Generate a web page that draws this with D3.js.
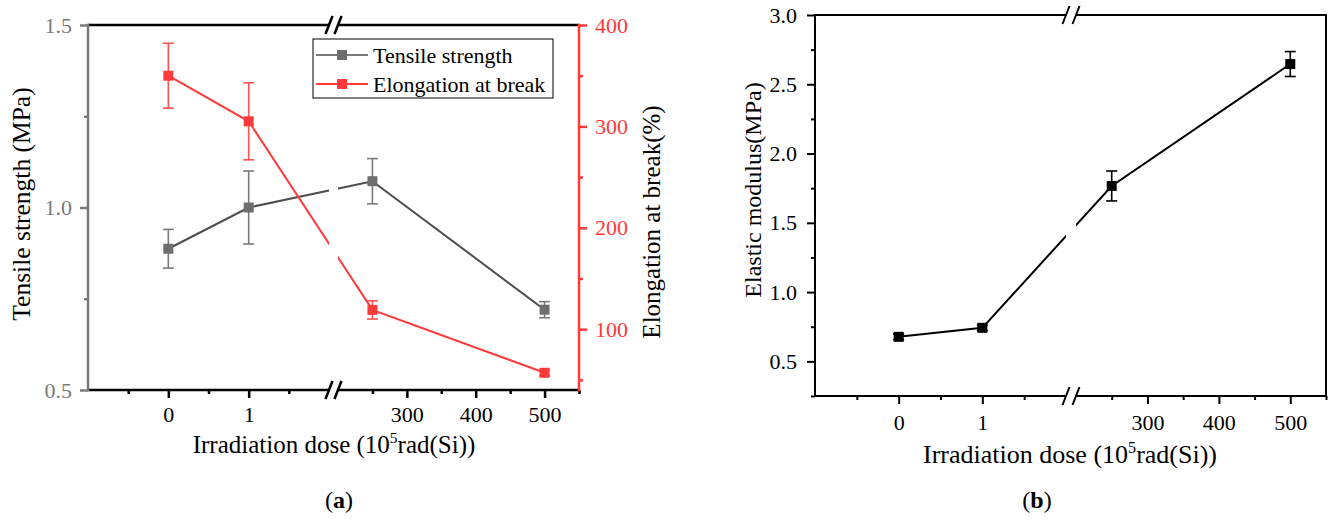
<!DOCTYPE html>
<html>
<head>
<meta charset="utf-8">
<script src="https://cdn.jsdelivr.net/npm/d3@7"></script>
<style>
  body { margin: 0; background: #fff; }
  svg { display: block; font-family: "Liberation Serif", "Times New Roman", serif; }
</style>
</head>
<body>
<svg id="chart" width="1330" height="523"></svg>
<script>
// data
const doses = [0, 1, 250, 500];
const tensile = [0.887, 1.0, 1.072, 0.72];
const tensileErr = [0.053, 0.1, 0.062, 0.022];
const elongation = [350, 305, 119, 57];
const elongationErr = [32, 38, 9, 3];
const modulus = [0.677, 0.742, 1.766, 2.646];
const modulusErr = [0.02, 0.02, 0.108, 0.09];

const xMajor = [0, 1, 300, 400, 500];
const xMinor = [-0.5, 0.5, 1.5, 250, 350, 450, 550];
const xBreakDomain = [-1, 2, 200, 550];

const tensileTicks = [0.5, 1.0, 1.5];
const tensileMinor = [0.75, 1.25];
const elongTicks = [100, 200, 300, 400];
const elongMinor = [50, 150, 250, 350];
const modulusTicks = [0.5, 1.0, 1.5, 2.0, 2.5, 3.0];
const modulusMinor = [0.25, 0.75, 1.25, 1.75, 2.25, 2.75];

const RED = "#ff3a3a";
const GRAY = "#7a7a7a";
const FONT = "'Liberation Serif', 'Times New Roman', serif";

const svg = d3.select("#chart");

// broken x axis: two linear pieces with a small gap between them
function drawFrame(g, p, xs, opts) {
    const bx = (p.b1 + p.b2) / 2;
    const gap = (p.b2 - p.b1) / 2;

    // x ticks
    g.append("g")
        .attr("transform", `translate(0,${p.B})`)
        .call(d3.axisBottom(xs).tickValues(xMajor).tickSize(8).tickPadding(opts.xPad).tickFormat(d3.format("d")))
        .attr("font-family", FONT).attr("font-size", 22)
        .call(a => a.select(".domain").remove())
        .call(a => a.selectAll("line").attr("stroke", "#000").attr("stroke-width", opts.sw))
        .call(a => a.selectAll("text").attr("fill", "#000").style("font-family", FONT));
    g.append("g")
        .attr("transform", `translate(0,${p.B})`)
        .call(d3.axisBottom(xs).tickValues(xMinor).tickSize(4).tickFormat(""))
        .call(a => a.select(".domain").remove())
        .call(a => a.selectAll("line").attr("stroke", "#000").attr("stroke-width", opts.sw));

    // top and bottom lines, split at the break
    [p.T, p.B].forEach(y => {
        g.append("line").attr("x1", p.L).attr("x2", bx - gap).attr("y1", y).attr("y2", y)
            .attr("stroke", "#000").attr("stroke-width", opts.sw);
        g.append("line").attr("x1", bx + gap).attr("x2", p.R).attr("y1", y).attr("y2", y)
            .attr("stroke", "#000").attr("stroke-width", opts.sw);
        [-gap, gap].forEach(o => {
            g.append("line")
                .attr("x1", bx + o - 3.5).attr("y1", y + 9)
                .attr("x2", bx + o + 3.5).attr("y2", y - 9)
                .attr("stroke", "#000").attr("stroke-width", opts.sw);
        });
    });
}

function yAxis(g, p, ys, ticks, minor, side, color, pad, fmt, sw) {
    const x = side === "left" ? p.L : p.R;
    const mk = side === "left" ? d3.axisLeft : d3.axisRight;
    g.append("g")
        .attr("transform", `translate(${x},0)`)
        .call(mk(ys).tickValues(ticks).tickSize(8).tickPadding(pad).tickFormat(fmt))
        .attr("font-family", FONT).attr("font-size", 22)
        .call(a => a.select(".domain").remove())
        .call(a => a.selectAll("line").attr("stroke", color).attr("stroke-width", sw))
        .call(a => a.selectAll("text").attr("fill", color).style("font-family", FONT));
    g.append("g")
        .attr("transform", `translate(${x},0)`)
        .call(mk(ys).tickValues(minor).tickSize(4).tickFormat(""))
        .call(a => a.select(".domain").remove())
        .call(a => a.selectAll("line").attr("stroke", color).attr("stroke-width", sw));
    g.append("line").attr("x1", x).attr("x2", x).attr("y1", p.T - sw / 2).attr("y2", p.B + sw / 2)
        .attr("stroke", color).attr("stroke-width", sw);
}

function series(g, p, xs, ys, vals, errs, lineColor, markColor, errColor, clipId) {
    const pts = doses.map((d, i) => ({ x: xs(d), y: ys(vals[i]), e: errs[i], v: vals[i] }));

    // clip the line where the axis is broken
    const clip = g.append("clipPath").attr("id", clipId);
    clip.append("rect").attr("x", 0).attr("y", 0).attr("width", p.b1).attr("height", 523);
    clip.append("rect").attr("x", p.b2).attr("y", 0).attr("width", 1330 - p.b2).attr("height", 523);

    g.append("path")
        .datum(pts)
        .attr("clip-path", `url(#${clipId})`)
        .attr("fill", "none")
        .attr("stroke", lineColor)
        .attr("stroke-width", 2)
        .attr("d", d3.line().x(d => d.x).y(d => d.y));

    const eb = g.append("g").attr("stroke", errColor).attr("stroke-width", 1.6);
    pts.forEach(d => {
        const y1 = ys(d.v + d.e), y2 = ys(d.v - d.e);
        eb.append("line").attr("x1", d.x).attr("x2", d.x).attr("y1", y1).attr("y2", y2);
        eb.append("line").attr("x1", d.x - 5.5).attr("x2", d.x + 5.5).attr("y1", y1).attr("y2", y1);
        eb.append("line").attr("x1", d.x - 5.5).attr("x2", d.x + 5.5).attr("y1", y2).attr("y2", y2);
    });

    g.append("g").selectAll("rect")
        .data(pts)
        .join("rect")
        .attr("x", d => d.x - 5)
        .attr("y", d => d.y - 5)
        .attr("width", 10)
        .attr("height", 10)
        .attr("fill", markColor);
}

function xTitle(g, cx, y, size) {
    const t = g.append("text")
        .attr("x", cx).attr("y", y)
        .attr("text-anchor", "middle")
        .attr("font-size", size);
    t.append("tspan").text("Irradiation dose (10");
    t.append("tspan").attr("font-size", size * 0.62).attr("dy", -size * 0.4).text("5");
    t.append("tspan").attr("dy", size * 0.4).text("rad(Si))");
}

function caption(cx, letter) {
    const t = svg.append("text")
        .attr("x", cx).attr("y", 508)
        .attr("text-anchor", "middle")
        .attr("font-size", 24);
    t.append("tspan").text("(");
    t.append("tspan").attr("font-weight", "bold").text(letter);
    t.append("tspan").text(")");
}

// ---------- (a) ----------
const pa = { L: 88, R: 579, T: 25, B: 390, b1: 329, b2: 338 };
const ga = svg.append("g");
const xa = d3.scaleLinear().domain(xBreakDomain).range([pa.L, pa.b1, pa.b2, pa.R]);
const yaL = d3.scaleLinear().domain([0.5, 1.5]).range([pa.B, pa.T]);
const yaR = d3.scaleLinear().domain([40, 400]).range([pa.B, pa.T]);

drawFrame(ga, pa, xa, { sw: 2.5, xPad: 8 });
yAxis(ga, pa, yaL, tensileTicks, tensileMinor, "left", GRAY, 8, d3.format(".1f"), 2.5);
yAxis(ga, pa, yaR, elongTicks, elongMinor, "right", RED, 8, d3.format("d"), 2.5);

series(ga, pa, xa, yaL, tensile, tensileErr, "#4d4d4d", "#6e6e6e", GRAY, "clipA1");
series(ga, pa, xa, yaR, elongation, elongationErr, RED, RED, "#ff5252", "clipA2");

// legend
const lg = ga.append("g");
lg.append("rect").attr("x", 313).attr("y", 39).attr("width", 240).attr("height", 59)
    .attr("fill", "#fff").attr("stroke", "#000").attr("stroke-width", 1);
[["Tensile strength", "#7a7a7a", "#6e6e6e", 55], ["Elongation at break", RED, RED, 84]].forEach(([name, lc, mc, y]) => {
    lg.append("line").attr("x1", 316).attr("x2", 368).attr("y1", y).attr("y2", y)
        .attr("stroke", lc).attr("stroke-width", 2);
    lg.append("rect").attr("x", 337).attr("y", y - 5).attr("width", 10).attr("height", 10).attr("fill", mc);
    lg.append("text").attr("x", 373).attr("y", y).attr("dy", "0.35em")
        .attr("font-size", 22).text(name);
});

ga.append("text")
    .attr("transform", "translate(30,204) rotate(-90)")
    .attr("text-anchor", "middle").attr("font-size", 25.5)
    .text("Tensile strength (MPa)");
ga.append("text")
    .attr("transform", "translate(660,222) rotate(-90)")
    .attr("text-anchor", "middle").attr("font-size", 25)
    .text("Elongation at break(%)");
xTitle(ga, 334, 453, 25);
caption(339, "a");

// ---------- (b) ----------
const pb = { L: 815, R: 1326, T: 15, B: 396, b1: 1066, b2: 1076 };
const gb = svg.append("g");
const xb = d3.scaleLinear().domain(xBreakDomain).range([pb.L, pb.b1, pb.b2, pb.R]);
const yb = d3.scaleLinear().domain([0.25, 3.0]).range([pb.B, pb.T]);

drawFrame(gb, pb, xb, { sw: 2, xPad: 10 });
yAxis(gb, pb, yb, modulusTicks, modulusMinor, "left", "#000", 10, d3.format(".1f"), 2);
gb.append("line").attr("x1", pb.R).attr("x2", pb.R).attr("y1", pb.T - 1).attr("y2", pb.B + 1)
    .attr("stroke", "#000").attr("stroke-width", 2);

series(gb, pb, xb, yb, modulus, modulusErr, "#000", "#000", "#000", "clipB");

gb.append("text")
    .attr("transform", "translate(761,190) rotate(-90)")
    .attr("text-anchor", "middle").attr("font-size", 24)
    .text("Elastic modulus(MPa)");
xTitle(gb, 1070, 463, 26);
caption(1037, "b");
</script>
</body>
</html>
